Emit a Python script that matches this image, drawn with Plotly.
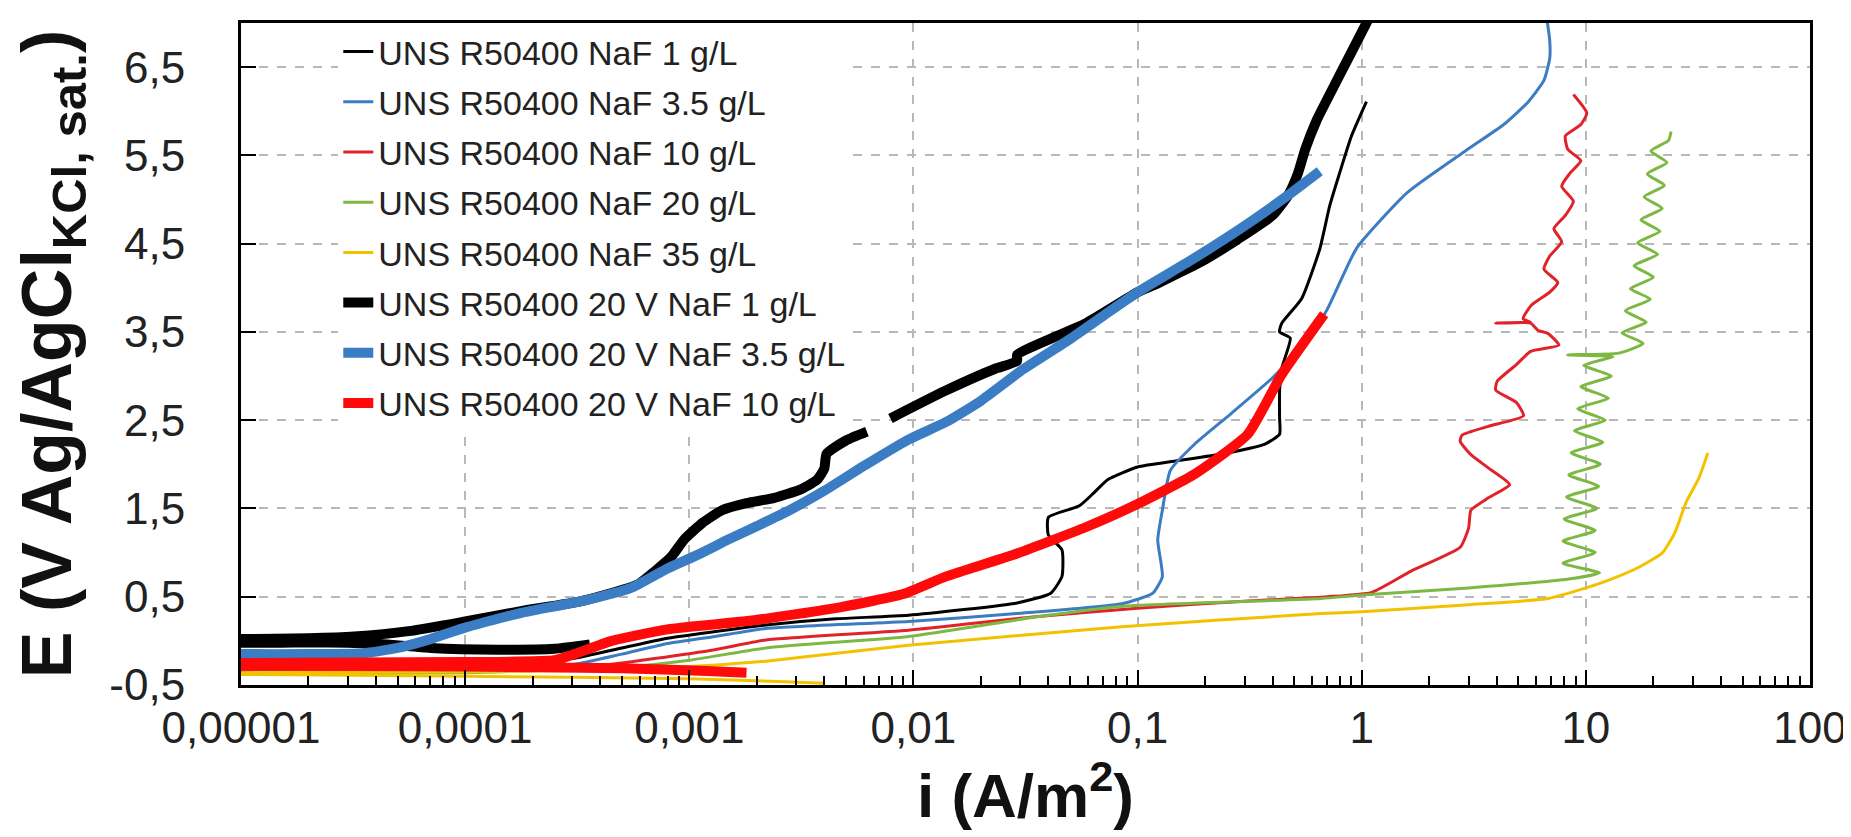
import plotly.graph_objects as go

# ---------------- data (i in A/m2, E in V Ag/AgCl) ----------------
names = [
    "UNS R50400 NaF 1 g/L",
    "UNS R50400 NaF 3.5 g/L",
    "UNS R50400 NaF 10 g/L",
    "UNS R50400 NaF 20 g/L",
    "UNS R50400 NaF 35 g/L",
    "UNS R50400 20 V NaF 1 g/L",
    "UNS R50400 20 V NaF 3.5 g/L",
    "UNS R50400 20 V NaF 10 g/L",
]

i_naf1 = [4e-6, 1e-4, 3e-4, 5e-4, 8e-4, 1.1e-3, 2.2e-3, 4.5e-3, 9.5e-3, 2.9e-2,
          4.1e-2, 4.6e-2, 4.6e-2, 4.0e-2, 4.0e-2, 5.5e-2, 6.4e-2, 7.4e-2, 0.10, 0.15,
          0.24, 0.37, 0.43, 0.43, 0.43, 0.44, 0.48, 0.43, 0.44, 0.54,
          0.65, 0.72, 0.79, 0.90, 1.05]
e_naf1 = [-0.30, -0.28, -0.20, -0.08, 0.03, 0.08, 0.18, 0.25, 0.29, 0.43,
          0.54, 0.73, 1.03, 1.20, 1.40, 1.53, 1.68, 1.83, 1.97, 2.04,
          2.12, 2.23, 2.34, 2.53, 2.83, 3.09, 3.43, 3.50, 3.60, 3.88,
          4.44, 4.93, 5.27, 5.72, 6.11]

i_naf35g = [4e-6, 1e-4, 3e-4, 5e-4, 8e-4, 1.3e-3, 2.2e-3, 9.5e-3, 2.9e-2, 8.5e-2,
            0.117, 0.129, 0.123, 0.129, 0.14, 0.18, 0.26, 0.40, 0.55, 0.70,
            0.95, 1.6, 2.9, 4.3, 5.5, 6.5, 6.9, 6.9, 6.7]
e_naf35g = [-0.34, -0.32, -0.27, -0.15, -0.03, 0.05, 0.14, 0.22, 0.31, 0.42,
            0.54, 0.73, 1.14, 1.48, 1.93, 2.23, 2.57, 2.98, 3.35, 3.75,
            4.45, 5.08, 5.55, 5.85, 6.1, 6.35, 6.6, 6.8, 7.05]

i_naf10 = [4e-6, 1e-4, 4e-4, 7e-4, 1.3e-3, 2.2e-3, 9.5e-3, 3.4e-2, 0.1, 0.3,
           0.7, 1.11, 1.66, 2.75, 3.0, 3.07, 3.67, 4.57, 3.67, 3.07,
           2.75, 2.8, 3.67, 5.27, 4.9, 3.96, 4.02, 4.9, 5.67, 7.58,
           6.8, 6.1, 5.67, 3.96, 5.67, 5.25, 5.7, 6.9, 7.5, 6.5,
           6.9, 7.8, 7.2, 8.1, 8.8, 7.8, 8.5, 9.5, 8.3, 8.1,
           9.5, 10.1, 8.8]
e_naf10 = [-0.36, -0.34, -0.28, -0.2, -0.1, 0.01, 0.12, 0.27, 0.37, 0.45,
           0.5, 0.55, 0.79, 1.06, 1.28, 1.48, 1.62, 1.77, 1.96, 2.11,
           2.26, 2.33, 2.43, 2.55, 2.70, 2.84, 2.94, 3.13, 3.28, 3.35,
           3.48, 3.52, 3.60, 3.60, 3.61, 3.65, 3.80, 3.95, 4.06, 4.21,
           4.36, 4.52, 4.67, 4.82, 4.98, 5.15, 5.30, 5.44, 5.57, 5.72,
           5.85, 5.98, 6.19]

i_naf20 = [4e-6, 1e-4, 5e-4, 1e-3, 2.2e-3, 9.5e-3, 3.5e-2, 8.5e-2, 0.66, 1.0,
           3.0, 8.4, 11.5,
           7.9, 11.0, 7.9, 11.0, 8.0, 11.2, 8.2, 11.4, 8.4, 11.6,
           8.6, 11.9, 8.9, 12.2, 9.2, 12.6, 9.5, 13.0, 9.8, 13.2,
           8.3, 14.0,
           18.0, 14.5, 18.6, 15.0, 19.4, 15.8, 20.0, 16.4, 20.9, 17.0,
           21.4, 17.6, 21.9, 18.2, 22.4, 18.8, 23.0, 19.5, 23.4, 24.0]
e_naf20 = [-0.38, -0.36, -0.30, -0.22, -0.08, 0.05, 0.27, 0.39, 0.48, 0.52,
           0.60, 0.70, 0.77,
           0.88, 1.00, 1.13, 1.25, 1.38, 1.50, 1.63, 1.75, 1.88, 2.00,
           2.13, 2.25, 2.38, 2.50, 2.63, 2.75, 2.88, 3.00, 3.12, 3.22,
           3.24, 3.26,
           3.37, 3.49, 3.61, 3.74, 3.87, 3.99, 4.12, 4.25, 4.38, 4.51,
           4.64, 4.77, 4.90, 5.03, 5.16, 5.29, 5.42, 5.55, 5.67, 5.77]

i_naf35 = [4e-3, 2.5e-3, 1e-3, 1e-4, 1e-5, 4e-6, 4e-6, 1e-5, 1e-4, 5e-4,
           1.2e-3, 2.2e-3, 9.5e-3, 8.5e-2, 0.66, 1.0, 3.0, 6.8, 10, 13,
           17.4, 22, 25, 28, 32, 35]
e_naf35 = [-0.48, -0.46, -0.43, -0.40, -0.38, -0.38, -0.36, -0.36, -0.35, -0.33,
           -0.28, -0.23, -0.05, 0.16, 0.31, 0.33, 0.41, 0.48, 0.6, 0.7,
           0.84, 1.0, 1.23, 1.57, 1.85, 2.13]

i_20v_naf1 = [3.6e-4, 2.5e-4, 1.4e-4, 7e-5, 4.5e-5, 3e-5, 1.5e-5, 1e-5, 6e-6, 6e-6,
              1e-5, 2e-5, 3.2e-5, 5.6e-5, 1e-4, 1.8e-4, 3.3e-4, 5.9e-4, 7.1e-4, 8.3e-4,
              9.5e-4, 1.15e-3, 1.4e-3, 1.8e-3, 2.4e-3, 3.1e-3, 3.7e-3, 4.0e-3, 4.1e-3, 5.0e-3,
              6.2e-3, None,
              7.9e-3, 1.38e-2, 2.3e-2, 2.9e-2, 2.9e-2, 5.9e-2, 0.10, 0.123, 0.20, 0.28,
              0.40, 0.47, 0.52, 0.56, 0.63, 0.79, 1.05, 1.2]
e_20v_naf1 = [-0.04, -0.09, -0.10, -0.08, -0.04, -0.02, -0.02, -0.02, -0.01, 0.01,
              0.02, 0.03, 0.05, 0.11, 0.22, 0.34, 0.45, 0.64, 0.80, 0.95,
              1.15, 1.34, 1.48, 1.56, 1.62, 1.71, 1.82, 1.95, 2.12, 2.27,
              2.37, None,
              2.52, 2.83, 3.08, 3.17, 3.24, 3.60, 3.95, 4.05, 4.32, 4.55,
              4.82, 5.05, 5.30, 5.57, 5.90, 6.39, 7.0, 7.3]

i_20v_naf35 = [5e-6, 1e-5, 2e-5, 3.5e-5, 5e-5, 7e-5, 1e-4, 1.8e-4, 3.3e-4, 5.5e-4,
               8e-4, 1.1e-3, 1.5e-3, 2e-3, 2.8e-3, 4e-3, 6e-3, 9.5e-3, 1.4e-2, 2e-2,
               3.1e-2, 5e-2, 7e-2, 0.1, 0.17, 0.28, 0.47, 0.65]
e_20v_naf35 = [-0.15, -0.15, -0.15, -0.14, -0.08, 0.02, 0.15, 0.32, 0.45, 0.6,
               0.82, 0.98, 1.15, 1.3, 1.48, 1.7, 1.98, 2.28, 2.48, 2.72,
               3.08, 3.42, 3.68, 3.95, 4.3, 4.65, 5.05, 5.32]

i_20v_naf10 = [1.8e-3, 1.2e-3, 5e-4, 1e-4, 1e-5, 5e-6, 5e-6, 1e-5, 1e-4, 2.5e-4,
               3e-4, 4.5e-4, 8e-4, 1.9e-3, 4.7e-3, 9e-3, 1.4e-2, 2.9e-2, 5.9e-2, 0.1,
               0.18, 0.31, 0.44, 0.68]
e_20v_naf10 = [-0.36, -0.34, -0.31, -0.29, -0.28, -0.28, -0.25, -0.25, -0.24, -0.22,
               -0.16, 0.0, 0.13, 0.23, 0.38, 0.53, 0.73, 0.99, 1.29, 1.55,
               1.89, 2.34, 3.02, 3.70]

x_tickvals = [1e-5, 1e-4, 1e-3, 1e-2, 1e-1, 1, 10, 100]
x_ticktext = ["0,00001", "0,0001", "0,001", "0,01", "0,1", "1", "10", "100"]
y_tickvals = [-0.5, 0.5, 1.5, 2.5, 3.5, 4.5, 5.5, 6.5]
y_ticktext = ["-0,5", "0,5", "1,5", "2,5", "3,5", "4,5", "5,5", "6,5"]

# ---------------- styling ----------------
series = [
    (i_naf1, e_naf1, "#000000", 3),
    (i_naf35g, e_naf35g, "#3b7cc2", 3),
    (i_naf10, e_naf10, "#e0232b", 3),
    (i_naf20, e_naf20, "#7db843", 3),
    (i_naf35, e_naf35, "#f2c200", 3),
    (i_20v_naf1, e_20v_naf1, "#000000", 10),
    (i_20v_naf35, e_20v_naf35, "#3b7dc5", 10),
    (i_20v_naf10, e_20v_naf10, "#ff0a0a", 10),
]

FONT = "Liberation Sans, Arial"

fig = go.Figure()
for k, (name, (xs, ys, color, w)) in enumerate(zip(names, series)):
    assert len(xs) == len(ys), name
    fig.add_trace(go.Scatter(
        x=xs, y=ys, name=name, mode="lines", legendgroup="g%d" % k,
        line=dict(color=color, width=w, shape="spline", smoothing=0.5),
        connectgaps=False,
    ))

minor_x = [m * 10.0 ** d for d in range(-5, 2) for m in range(2, 10)]

fig.update_layout(
    width=1851, height=837,
    margin=dict(l=233, r=45, t=14, b=160),
    paper_bgcolor="white", plot_bgcolor="white",
    showlegend=True,
    legend=dict(
        x=0.062, y=1.0, xanchor="left", yanchor="top",
        bgcolor="white", borderwidth=0,
        font=dict(family=FONT, size=34, color="#222222"),
        tracegroupgap=3,
    ),
    font=dict(family=FONT, color="#222222"),
)

fig.update_xaxes(
    type="log", range=[-5, 2],
    tickvals=x_tickvals, ticktext=x_ticktext,
    ticks="inside", ticklen=15, tickwidth=2, tickcolor="black",
    ticklabelstandoff=2,
    tickfont=dict(family=FONT, size=44, color="#222222"),
    showline=True, linewidth=3, linecolor="black", mirror=True,
    showgrid=True, gridcolor="#b8b8b8", gridwidth=1.5, griddash="dash",
    zeroline=False,
    minor=dict(tickvals=minor_x, ticks="inside", ticklen=9, tickwidth=2,
               tickcolor="black", showgrid=False),
    title=dict(text="<b>i (A/m<sup>2</sup>)</b>",
               font=dict(family=FONT, size=62, color="#111111"),
               standoff=0),
)

fig.update_yaxes(
    range=[-0.5, 7.0],
    tickvals=y_tickvals, ticktext=y_ticktext,
    ticks="inside", ticklen=15, tickwidth=2, tickcolor="black",
    ticklabelstandoff=44,
    tickfont=dict(family=FONT, size=44, color="#222222"),
    showline=True, linewidth=3, linecolor="black", mirror=True,
    showgrid=True, gridcolor="#b8b8b8", gridwidth=1.5, griddash="dash",
    zeroline=False,
    title=dict(text="<b>E (V Ag/AgCl<sub>KCl, sat.</sub>)</b>",
               font=dict(family=FONT, size=70, color="#111111"),
               standoff=22),
)

fig.write_html("out.html")
